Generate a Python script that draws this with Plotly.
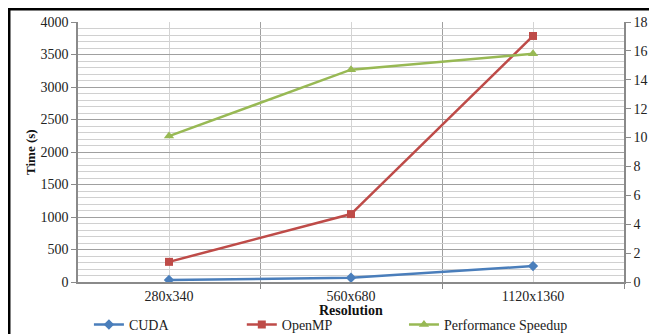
import plotly.graph_objects as go

categories = ["280x340", "560x680", "1120x1360"]
cuda = [30, 65, 245]
openmp = [310, 1045, 3785]
speedup = [10.1, 14.7, 15.8]
left_ticks = list(range(0, 4001, 500))
right_ticks = list(range(0, 19, 2))

xs = list(range(len(categories)))
font = "Liberation Serif"
tf = dict(family=font, size=14, color="#222")

fig = go.Figure()
fig.add_trace(go.Scatter(x=xs, y=cuda, name="CUDA", mode="lines+markers",
                         legend="legend",
                         line=dict(color="#4a7ebb", width=2.5),
                         marker=dict(symbol="diamond", size=8, color="#4a7ebb")))
fig.add_trace(go.Scatter(x=xs, y=openmp, name="OpenMP", mode="lines+markers",
                         legend="legend2",
                         line=dict(color="#be4b48", width=2.5),
                         marker=dict(symbol="square", size=8, color="#be4b48")))
fig.add_trace(go.Scatter(x=xs, y=speedup, name="Performance Speedup", mode="lines+markers",
                         yaxis="y2", legend="legend3",
                         line=dict(color="#98b954", width=2.5),
                         marker=dict(symbol="triangle-up", size=9, color="#98b954")))

leg = dict(orientation="h", xanchor="left", y=-0.165, yanchor="middle",
           font=tf, bgcolor="rgba(0,0,0,0)", itemwidth=30)

# page body adds an 8px offset; margins compensate
fig.update_layout(
    width=649, height=326,
    margin=dict(l=70, r=33, t=14, b=52, autoexpand=False),
    paper_bgcolor="white", plot_bgcolor="white",
    font=tf,
    showlegend=True,
    legend=dict(leg, x=0.020),
    legend2=dict(leg, x=0.300),
    legend3=dict(leg, x=0.597),
    xaxis=dict(range=[-0.5, len(categories) - 0.5], tickmode="array",
               tickvals=xs, ticktext=categories, showgrid=True,
               gridcolor="#d4d4d4", gridwidth=1, zeroline=False,
               showline=True, linecolor="#8a8a8a", linewidth=1.5, ticks="",
               minor=dict(tickmode="array", tickvals=[0.5, 1.5, 2.5], showgrid=True,
                          gridcolor="#a0a0a0", gridwidth=1, ticks="outside",
                          ticklen=5, tickcolor="#8a8a8a"),
               tickfont=tf, fixedrange=True, automargin=False),
    yaxis=dict(range=[0, 4000], tickmode="array", tickvals=left_ticks,
               showgrid=True, gridcolor="#a0a0a0", gridwidth=1, zeroline=False,
               showline=True, linecolor="#8a8a8a", linewidth=1.5,
               ticks="outside", ticklen=5, tickcolor="#8a8a8a",
               minor=dict(dtick=100, tick0=0, showgrid=True, gridcolor="#d0d0d0", gridwidth=1),
               tickfont=tf, automargin=False),
    yaxis2=dict(range=[0, 18], tickmode="array", tickvals=right_ticks,
                overlaying="y", side="right", showgrid=False, zeroline=False,
                showline=True, linecolor="#8a8a8a", linewidth=1.5,
                ticks="outside", ticklen=5, tickcolor="#8a8a8a",
                tickfont=tf, automargin=False),
    annotations=[
        dict(text="<b>Time (s)</b>", xref="paper", yref="paper", x=-0.088, y=0.5,
             textangle=-90, showarrow=False, font=dict(size=13, family=font, color="#111"),
             xanchor="center", yanchor="middle"),
        dict(text="<b>Resolution</b>", xref="paper", yref="paper", x=0.5, y=-0.11,
             showarrow=False, font=dict(size=14, family=font, color="#111"),
             xanchor="center", yanchor="middle"),
    ],
    shapes=[
        dict(type="rect", xref="paper", yref="paper", x0=-0.1264, x1=1.2, y0=-0.5, y1=1.05,
             line=dict(color="black", width=3), fillcolor="rgba(0,0,0,0)", layer="below"),
    ],
)

fig.write_html("out.html")
